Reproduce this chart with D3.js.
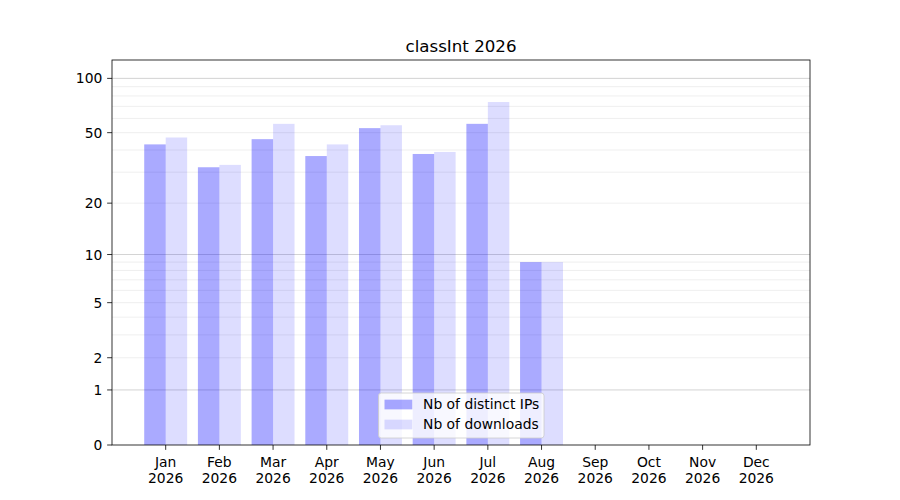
<!DOCTYPE html>
<html>
<head>
<meta charset="utf-8">
<script src="https://cdn.jsdelivr.net/npm/d3@7"></script>
<style>
  body { margin: 0; background: #fff; }
  svg { display: block; font-family: "DejaVu Sans", sans-serif; }
</style>
</head>
<body>
<svg id="chart" width="900" height="500"></svg>
<script>
const title = "classInt 2026";
const months = ["Jan","Feb","Mar","Apr","May","Jun","Jul","Aug","Sep","Oct","Nov","Dec"];
const yearLabel = "2026";
const distinctIPs = [43, 32, 46, 37, 53, 38, 56, 9, 0, 0, 0, 0];
const downloads   = [47, 33, 56, 43, 55, 39, 74, 9, 0, 0, 0, 0];
const yTicks = [0, 1, 2, 5, 10, 20, 50, 100];
const majorGrid = [1, 10, 100];
const minorGrid = [2,3,4,5,6,7,8,9,20,30,40,50,60,70,80,90];
const seriesNames = ["Nb of distinct IPs", "Nb of downloads"];

const L = 112, R = 810, T = 60, B = 445;
const FS = 13.89;
const svg = d3.select("#chart");

const x = d3.scaleLinear().domain([-1, 12]).range([L, R]);
const y = d3.scaleSymlog().constant(1).domain([0, 126.3]).range([B, T]);

// grid
const g = svg.append("g");
g.selectAll(".minor").data(minorGrid).join("line")
  .attr("x1", L).attr("x2", R)
  .attr("y1", d => y(d)).attr("y2", d => y(d))
  .attr("stroke", "#ebebeb").attr("stroke-width", 0.8);
g.selectAll(".major").data(majorGrid).join("line")
  .attr("x1", L).attr("x2", R)
  .attr("y1", d => y(d)).attr("y2", d => y(d))
  .attr("stroke", "#c8c8c8").attr("stroke-width", 0.8);

// bars
const bw = 0.4;
svg.append("g").selectAll("rect").data(distinctIPs).join("rect")
  .attr("x", (d, i) => x(i - bw))
  .attr("width", (d, i) => x(i) - x(i - bw))
  .attr("y", d => y(d))
  .attr("height", d => B - y(d))
  .attr("fill", "blue").attr("fill-opacity", 1/3);
svg.append("g").selectAll("rect").data(downloads).join("rect")
  .attr("x", (d, i) => x(i))
  .attr("width", (d, i) => x(i + bw) - x(i))
  .attr("y", d => y(d))
  .attr("height", d => B - y(d))
  .attr("fill", "blue").attr("fill-opacity", 0.133);

// spines
svg.append("rect").attr("x", L).attr("y", T).attr("width", R - L).attr("height", B - T)
  .attr("fill", "none").attr("stroke", "#000").attr("stroke-width", 0.8);

// y axis ticks
const yt = svg.append("g");
yt.selectAll("line").data(yTicks).join("line")
  .attr("x1", L - 4.86).attr("x2", L)
  .attr("y1", d => y(d)).attr("y2", d => y(d))
  .attr("stroke", "#000").attr("stroke-width", 0.8);
yt.selectAll("text").data(yTicks).join("text")
  .attr("x", L - 9.7).attr("y", d => y(d)).attr("dy", "0.36em")
  .attr("text-anchor", "end").attr("font-size", FS).attr("fill", "#000")
  .text(d => d);

// x axis ticks
const xt = svg.append("g");
xt.selectAll("line").data(months).join("line")
  .attr("x1", (d, i) => x(i)).attr("x2", (d, i) => x(i))
  .attr("y1", B).attr("y2", B + 4.86)
  .attr("stroke", "#000").attr("stroke-width", 0.8);
const xl = xt.selectAll("text").data(months).join("text")
  .attr("text-anchor", "middle").attr("font-size", FS).attr("fill", "#000");
xl.append("tspan").attr("x", (d, i) => x(i)).attr("y", 466.5).text(d => d);
xl.append("tspan").attr("x", (d, i) => x(i)).attr("y", 482.5).text(yearLabel);

// title
svg.append("text").attr("x", (L + R) / 2).attr("y", 52)
  .attr("text-anchor", "middle").attr("font-size", 16.67).attr("fill", "#000")
  .text(title);

// legend
const lg = svg.append("g");
lg.append("rect").attr("x", 378.5).attr("y", 393).attr("width", 165.5).attr("height", 45)
  .attr("rx", 2.8).attr("fill", "#fff").attr("fill-opacity", 0.8)
  .attr("stroke", "#cccccc").attr("stroke-width", 0.8);
const opac = [1/3, 0.133];
seriesNames.forEach((name, k) => {
  const cy = 404.5 + k * 20;
  lg.append("rect").attr("x", 384.5).attr("y", cy - 4.85).attr("width", 27.8).attr("height", 9.7)
    .attr("fill", "blue").attr("fill-opacity", opac[k]);
  lg.append("text").attr("x", 423).attr("y", cy + 4.9)
    .attr("font-size", FS).attr("fill", "#000").text(name);
});
</script>
</body>
</html>
